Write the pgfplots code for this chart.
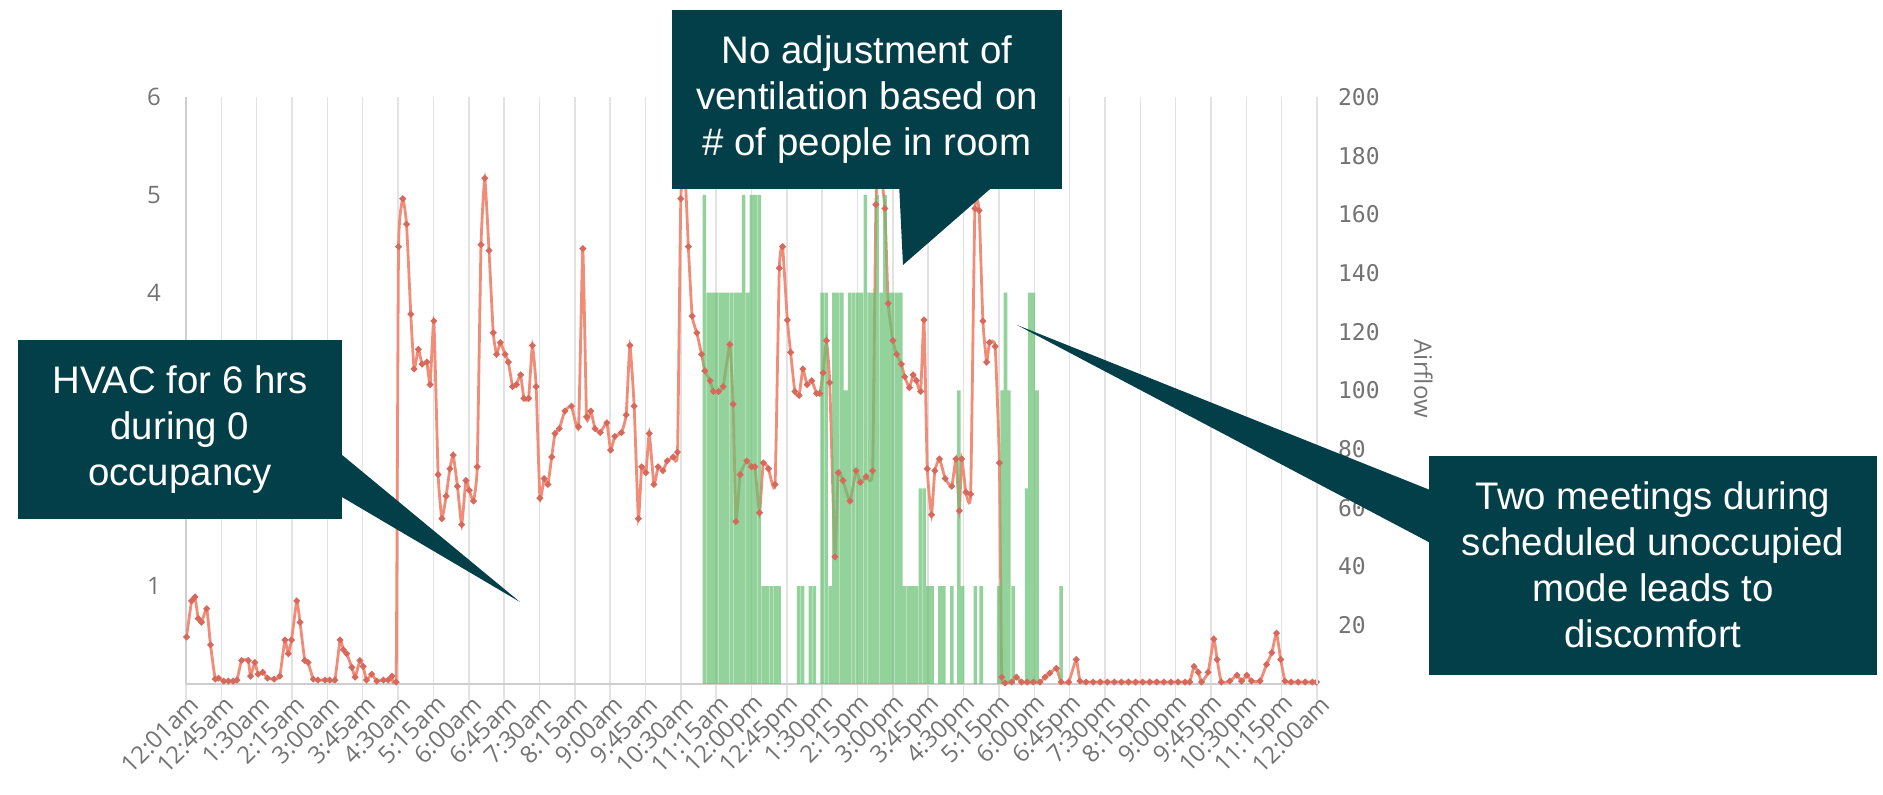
\documentclass[border=0pt]{standalone}
\usepackage{pgfplots}
\pgfplotsset{compat=1.18}
\usepackage{pgfplotstable}
\usepackage{fontspec}
\setmainfont{Liberation Sans}
\setmonofont{DejaVu Sans Mono}
\newfontfamily\tickfont{Open Sans}

\definecolor{callout}{RGB}{3,63,72}
\definecolor{airline}{RGB}{240,140,120}
\definecolor{airdot}{RGB}{215,105,92}
\definecolor{occgreen}{RGB}{105,192,115}
\definecolor{tickgray}{RGB}{115,115,115}
\definecolor{gridgray}{RGB}{226,226,226}

% airflow trace, hours since midnight vs left-axis units
\pgfplotstableread{
h v
0.01 0.48
0.12 0.85
0.19 0.89
0.26 0.67
0.33 0.63
0.44 0.77
0.52 0.40
0.62 0.05
0.69 0.06
0.80 0.03
0.90 0.03
1.00 0.03
1.08 0.04
1.18 0.24
1.32 0.24
1.37 0.08
1.46 0.22
1.53 0.10
1.63 0.12
1.73 0.06
1.87 0.05
1.99 0.08
2.10 0.45
2.17 0.31
2.24 0.45
2.35 0.85
2.42 0.63
2.52 0.24
2.59 0.22
2.70 0.05
2.80 0.04
2.95 0.04
3.05 0.04
3.16 0.04
3.27 0.45
3.34 0.35
3.41 0.31
3.52 0.17
3.59 0.07
3.69 0.24
3.76 0.18
3.83 0.04
3.94 0.10
4.05 0.03
4.19 0.04
4.29 0.04
4.37 0.08
4.46 0.02
4.51 4.47
4.60 4.96
4.68 4.70
4.77 3.78
4.84 3.22
4.93 3.42
5.01 3.27
5.11 3.29
5.18 3.06
5.26 3.71
5.35 2.14
5.43 1.69
5.52 1.92
5.60 2.20
5.67 2.34
5.76 2.02
5.85 1.63
5.94 2.08
6.01 1.98
6.10 1.87
6.18 2.22
6.26 4.49
6.34 5.17
6.43 4.43
6.52 3.59
6.59 3.37
6.67 3.49
6.77 3.37
6.84 3.29
6.93 3.04
7.01 3.06
7.10 3.16
7.17 2.92
7.27 2.92
7.35 3.46
7.43 3.04
7.51 1.90
7.60 2.10
7.68 2.04
7.76 2.32
7.83 2.56
7.92 2.61
8.04 2.79
8.18 2.84
8.33 2.63
8.42 4.45
8.50 2.73
8.59 2.79
8.68 2.61
8.79 2.57
8.93 2.67
9.01 2.39
9.10 2.53
9.24 2.57
9.34 2.75
9.42 3.46
9.51 2.84
9.60 1.69
9.67 2.22
9.76 2.16
9.83 2.56
9.93 2.04
10.02 2.22
10.12 2.18
10.21 2.28
10.34 2.32
10.43 2.37
10.50 4.96
10.58 5.30
10.66 4.47
10.74 3.76
10.84 3.59
10.94 3.37
11.01 3.20
11.12 3.10
11.19 2.99
11.30 2.99
11.40 3.04
11.54 3.47
11.61 2.86
11.67 1.66
11.76 2.14
11.90 2.28
12.00 2.22
12.07 2.22
12.17 1.75
12.25 2.26
12.36 2.20
12.50 2.04
12.59 4.25
12.66 4.47
12.76 3.72
12.83 3.39
12.92 2.99
13.01 2.95
13.09 3.22
13.18 3.06
13.28 3.10
13.38 2.97
13.45 2.97
13.52 3.18
13.59 3.51
13.66 3.08
13.77 1.30
13.84 2.16
13.94 2.08
14.09 1.87
14.22 2.18
14.31 2.06
14.43 2.12
14.57 2.18
14.64 4.90
14.72 5.30
14.83 4.86
14.90 3.89
15.00 3.51
15.08 3.37
15.18 3.27
15.25 3.14
15.35 3.03
15.43 3.16
15.50 3.10
15.59 2.99
15.66 3.72
15.73 2.20
15.82 1.73
15.89 2.18
15.99 2.30
16.11 2.10
16.25 2.02
16.34 2.30
16.41 1.77
16.46 2.30
16.55 1.96
16.65 1.94
16.74 4.86
16.83 4.84
16.91 3.71
16.99 3.29
17.05 3.49
17.17 3.45
17.26 2.26
17.31 0.07
17.38 0.01
17.52 0.02
17.62 0.07
17.73 0.02
17.85 0.02
17.98 0.02
18.12 0.02
18.23 0.07
18.33 0.11
18.47 0.16
18.57 0.02
18.73 0.02
18.89 0.25
18.97 0.03
19.10 0.02
19.25 0.02
19.40 0.02
19.55 0.02
19.70 0.02
19.85 0.02
20.00 0.02
20.15 0.02
20.30 0.02
20.45 0.02
20.60 0.02
20.75 0.02
20.90 0.02
21.05 0.02
21.20 0.02
21.30 0.02
21.39 0.18
21.48 0.12
21.55 0.02
21.69 0.12
21.81 0.46
21.88 0.25
21.97 0.02
22.15 0.03
22.30 0.09
22.40 0.03
22.51 0.09
22.61 0.03
22.79 0.03
22.93 0.20
23.04 0.32
23.14 0.52
23.23 0.25
23.32 0.03
23.45 0.02
23.60 0.02
23.75 0.02
23.90 0.02
23.99 0.02
}\airflow

% people in the room, 5 min bars
\pgfplotstableread{
h n
11.000 5
11.083 4
11.167 4
11.250 4
11.333 4
11.417 4
11.500 4
11.583 4
11.667 4
11.750 4
11.833 5
11.917 4
12.000 5
12.083 5
12.167 5
12.250 1
12.333 1
12.417 1
12.500 1
12.583 1
13.000 1
13.083 1
13.250 1
13.333 1
13.500 4
13.583 4
13.667 1
13.750 4
13.833 4
13.917 4
14.000 3
14.083 4
14.167 4
14.250 4
14.333 4
14.417 5
14.500 4
14.583 4
14.667 5
14.750 4
14.833 5
14.917 4
15.000 4
15.083 4
15.167 4
15.250 1
15.333 1
15.417 1
15.500 1
15.583 2
15.667 2
15.750 1
15.833 1
16.000 1
16.083 1
16.250 1
16.400 3
16.480 1
16.750 1
16.875 1
17.250 1
17.320 3
17.390 4
17.460 3
17.550 1
17.840 2
17.910 4
17.980 4
18.060 3
18.570 1
}\occupancy

\begin{document}
\begin{tikzpicture}
\path[use as bounding box] (0,0) rectangle (941.5pt,397.5pt);

\begin{axis}[
  at={(93pt,55.5pt)}, anchor=south west,
  scale only axis, width=565.5pt, height=293.5pt,
  xmin=0, xmax=24, ymin=0, ymax=6,
  axis x line*=bottom, axis y line*=left,
  axis line style={draw=gridgray!80!gray, line width=0.8pt},
  xtick={0,0.75,...,24},
  xticklabels={12:01am,12:45am,1:30am,2:15am,3:00am,3:45am,4:30am,5:15am,6:00am,6:45am,7:30am,8:15am,9:00am,9:45am,10:30am,11:15am,12:00pm,12:45pm,1:30pm,2:15pm,3:00pm,3:45pm,4:30pm,5:15pm,6:00pm,6:45pm,7:30pm,8:15pm,9:00pm,9:45pm,10:30pm,11:15pm,12:00am},
  xmajorgrids, grid style={gridgray, line width=0.75pt},
  tick align=outside, major tick length=8pt,
  xtick style={gridgray, line width=0.75pt},
  xticklabel style={font=\tickfont\fontsize{12}{13}\selectfont, text=tickgray, rotate=45, anchor=east, inner sep=1pt, xshift=4pt, yshift=-3pt},
  ytick={1,2,3,4,5,6},
  ytick style={draw=none},
  /pgf/number format/assume math mode=true,
  yticklabel style={font=\tickfont\fontsize{12}{13}\selectfont, text=tickgray, xshift=-1pt},
]
\addplot[airline, line width=1.4pt, smooth, tension=0.25, mark=*, mark size=0.8pt,
  mark options={draw=airdot, fill=airdot}] table[x=h, y=v] {\airflow};
\addplot[ybar, bar width=0.076, draw=none, fill=occgreen, fill opacity=0.72]
  table[x=h, y=n] {\occupancy};
\end{axis}

\begin{axis}[
  at={(93pt,55.5pt)}, anchor=south west,
  scale only axis, width=565.5pt, height=293.5pt,
  xmin=0, xmax=24, ymin=0, ymax=200,
  axis x line=none, axis y line*=right,
  axis line style={draw=gridgray, line width=0.75pt},
  ytick={20,40,...,200},
  ytick style={draw=none},
  /pgf/number format/assume math mode=true,
  yticklabel style={font=\ttfamily\fontsize{11.5}{12}\selectfont, text=tickgray, xshift=7pt},
  ylabel={Airflow},
  ylabel style={font=\tickfont\fontsize{12}{13}\selectfont, text=tickgray,
    at={(axis description cs:1.094,0.52)}, anchor=center, rotate=180},
]
\end{axis}

% callouts
\begin{scope}[every node/.style={text=white, align=center, font=\fontsize{19.2}{23}\selectfont}]
\fill[callout] (9pt,138pt) rectangle (171pt,227.5pt);
\fill[callout] (165pt,175pt) -- (260pt,96.5pt) -- (165pt,152.5pt) -- cycle;
\node at (90pt,182.5pt) {HVAC for 6 hrs\\during 0\\occupancy};

\fill[callout] (336pt,303pt) rectangle (531pt,392.5pt);
\fill[callout] (449.5pt,306pt) -- (451.5pt,265pt) -- (498.5pt,306pt) -- cycle;
\node at (433.5pt,347.5pt) {No adjustment of\\ventilation based on\\\# of people in room};

\fill[callout] (714.5pt,60pt) rectangle (938.5pt,169.5pt);
\fill[callout] (720pt,150.5pt) -- (508.5pt,235pt) -- (720pt,123.5pt) -- cycle;
\node at (826.5pt,115pt) {Two meetings during\\scheduled unoccupied\\mode leads to\\discomfort};
\end{scope}
\end{tikzpicture}
\end{document}
